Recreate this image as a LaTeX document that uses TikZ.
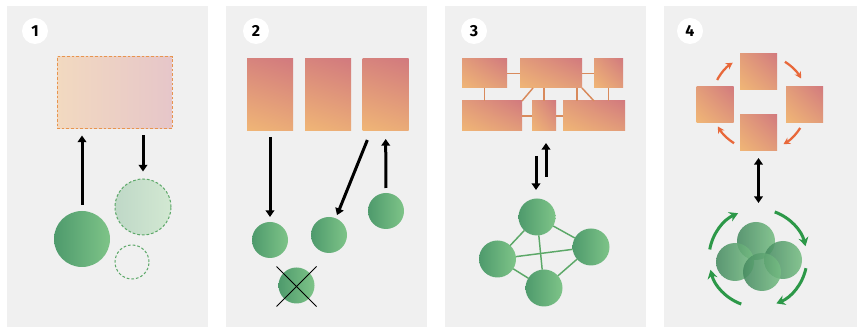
\documentclass[tikz,border=0pt]{standalone}
\usepackage{fontspec}
\setsansfont{Fira Sans}
\usetikzlibrary{arrows.meta,calc,shadings}

\definecolor{panelgray}{RGB}{240,240,240}
\definecolor{leafdark}{RGB}{78,154,108}
\definecolor{leaflight}{RGB}{126,196,136}
\definecolor{blockred}{RGB}{210,122,126}
\definecolor{blockmid}{RGB}{226,156,122}
\definecolor{blockgold}{RGB}{240,182,118}
\definecolor{linkorange}{RGB}{216,138,92}
\definecolor{arcorange}{RGB}{232,104,58}
\definecolor{arcgreen}{RGB}{44,152,72}
\definecolor{meshgreen}{RGB}{92,168,104}

\tikzset{every picture/.style={line width=0.75pt}}
\tikzset{
  panel/.style={fill=panelgray},
  badge/.style={circle, fill=white, minimum size=19.5pt, inner sep=0pt,
    font=\sffamily\bfseries\fontsize{12}{13}\selectfont},
  block/.style={rectangle, inner sep=0pt, outer sep=0pt,
    upper right=blockred, upper left=blockmid, lower right=blockmid, lower left=blockgold},
  tallblock/.style={rectangle, inner sep=0pt, outer sep=0pt,
    upper right=blockred, upper left={blockred!70!blockmid}, lower right={blockgold!60!blockmid}, lower left=blockgold},
  leaf/.style={circle, inner sep=0pt, outer sep=0pt, left color=leafdark, right color=leaflight},
  arr/.style={line width=2.25pt, -{Triangle[length=5pt,width=6.5pt]}},
  arrboth/.style={line width=2.25pt, {Triangle[length=5pt,width=6.5pt]}-{Triangle[length=5pt,width=6.5pt]}},
  link/.style={draw=linkorange, line width=1.1pt},
  mesh/.style={draw=meshgreen, line width=1.1pt},
  oarc/.style={draw=arcorange, line width=1.7pt, -{Stealth[length=5pt,width=5.5pt]}},
  garc/.style={draw=arcgreen, line width=2.25pt, -{Stealth[length=6.5pt,width=7.5pt]}}
}

\begin{document}
\begin{tikzpicture}[x=0.75pt,y=0.75pt,yscale=-1,xscale=1]
	\useasboundingbox (0,0) rectangle (857,327);
	\fill[white] (0,0) rectangle (857,327);

	%Shape: Rectangle (panels)
	\fill[panel] (7,6) rectangle (208,327);
	\fill[panel] (226,6) rectangle (427,327);
	\fill[panel] (445,6) rectangle (646,327);
	\fill[panel] (664,6) rectangle (857,327);

	% Text Node
	\node[badge] (num1) at (35,31) {1};
	\node[badge] (num2) at (256,31) {2};
	\node[badge] (num3) at (474,31) {3};
	\node[badge] (num4) at (690,31) {4};

	%% panel 1
	%Shape: Rectangle
	\node[rectangle, inner sep=0pt, minimum width=86.25pt, minimum height=54pt,
	  left color={rgb,255:red,242;green,217;blue,192}, right color={rgb,255:red,230;green,198;blue,201},
	  draw={rgb,255:red,232;green,148;blue,78}, dash pattern=on 2pt off 1.5pt] (r1) at (114.5,93) {};
	%Shape: Circle
	\node[leaf, minimum size=42pt] (c1) at (82,239) {};
	\node[circle, inner sep=0pt, minimum size=42pt,
	  left color={rgb,255:red,191;green,216;blue,199}, right color={rgb,255:red,210;green,232;blue,210},
	  draw=meshgreen, dash pattern=on 2pt off 1.5pt] (d1) at (143,207) {};
	\node[circle, inner sep=0pt, minimum size=25.5pt, draw=meshgreen, dash pattern=on 2pt off 1.5pt] (e1) at (132,262) {};
	%Straight Lines
	\draw[arr, shorten <=4.5pt, shorten >=4.5pt] (c1.north) -- (c1.north |- r1.south);
	\draw[arr, shorten <=4.5pt, shorten >=5.25pt] (d1.north |- r1.south) -- (d1.north);

	%% panel 2
	%Shape: Rectangle
	\node[tallblock, minimum width=34.5pt, minimum height=54pt] (q1) at (270,95) {};
	\node[tallblock, minimum width=34.5pt, minimum height=54pt] (q2) at (328,95) {};
	\node[tallblock, minimum width=34.5pt, minimum height=54pt] (q3) at (385.5,95) {};
	%Shape: Circle
	\node[leaf, minimum size=27pt] (b1) at (270,240) {};
	\node[leaf, minimum size=27pt] (b2) at (329,235) {};
	\node[leaf, minimum size=27pt] (b3) at (386,211) {};
	\node[leaf, minimum size=27pt] (b4) at (296.5,285.5) {};
	%Straight Lines
	\draw ($(b4)+(-20,-19)$) -- ($(b4)+(20,21)$);
	\draw ($(b4)+(20,-19)$) -- ($(b4)+(-20,21)$);
	\draw[arr, shorten <=4.5pt, shorten >=3.75pt] (q1.south) -- (b1.north);
	\draw[arr, shorten <=7.3pt, shorten >=2.6pt] (q3) -- (b2);
	\draw[arr, shorten <=3.75pt, shorten >=6pt] (b3) -- (q3);

	%% panel 3
	%Shape: Rectangle
	\node[block, minimum width=33.75pt, minimum height=21.75pt] (ra) at (484.5,73.5) {};
	\node[block, minimum width=46.5pt, minimum height=21.75pt] (rb) at (551,73.5) {};
	\node[block, minimum width=21.75pt, minimum height=21.75pt] (rc) at (608.5,73.5) {};
	\node[block, minimum width=45pt, minimum height=22.5pt] (rd) at (492,116) {};
	\node[block, minimum width=18pt, minimum height=22.5pt] (re) at (544,116) {};
	\node[block, minimum width=46.5pt, minimum height=22.5pt] (rf) at (594,116) {};
	%Straight Lines
	\draw[link] (ra.east) -- (rb.west);
	\draw[link] (rb.east) -- (rc.west);
	\draw[link] (rd.east) -- (re.west);
	\draw[link] (re.east) -- (rf.west);
	\draw[link] (ra.south) -- (ra.south |- rd.north);
	\draw[link] (re.north) -- (re.north |- rb.south);
	\draw[link] ($(rb.south east)+(-5,0)$) -- ($(rb.south east)+(-5,13)$);
	\draw[link] (rc.south) -- (rc.south |- rf.north);
	\draw[link] ($(rb.south west)+(13,0)$) -- (rd.north east);
	\draw[link] (rb.south east) -- ($(rf.north west)+(31,0)$);
	%Shape: Circle
	\node[leaf, minimum size=27.75pt] (n1) at (537,217) {};
	\node[leaf, minimum size=27.75pt] (n2) at (497.5,259) {};
	\node[leaf, minimum size=27.75pt] (n3) at (591,247) {};
	\node[leaf, minimum size=27.75pt] (n4) at (544,288) {};
	\draw[mesh] (n1) -- (n2);
	\draw[mesh] (n1) -- (n3);
	\draw[mesh] (n1) -- (n4);
	\draw[mesh] (n2) -- (n3);
	\draw[mesh] (n2) -- (n4);
	\draw[mesh] (n3) -- (n4);
	%Straight Lines
	\draw[arr] ($(n1.north)+(-1,-42.5)$) -- ($(n1.north)+(-1,-8.5)$);
	\draw[arr] ($(n1.north)+(9,-21.5)$) -- ($(n1.north)+(9,-55.5)$);

	%% panel 4
	%Shape: Square
	\node[block, minimum width=27.75pt, minimum height=27pt] (s1) at (758.5,71.5) {};
	\node[block, minimum width=27.75pt, minimum height=27pt] (s2) at (715,104.5) {};
	\node[block, minimum width=27.75pt, minimum height=27pt] (s3) at (804.5,104.5) {};
	\node[block, minimum width=27.75pt, minimum height=27pt] (s4) at (758.5,133) {};
	\coordinate (loop) at (759.5,102.5);
	%Shape: Arc
	\draw[oarc] ($(loop)+(-152:48)$) arc[start angle=-152, end angle=-124, radius=48];
	\draw[oarc] ($(loop)+(-58:48)$) arc[start angle=-58, end angle=-30, radius=48];
	\draw[oarc] ($(loop)+(32:48)$) arc[start angle=32, end angle=60, radius=48];
	\draw[oarc] ($(loop)+(122:48)$) arc[start angle=122, end angle=150, radius=48];
	%Shape: Circle
	\node[leaf, minimum size=28.5pt, opacity=0.88, left color=leafdark!90!black, right color=leaflight!85!leafdark] (g1) at (756,241) {};
	\node[leaf, minimum size=28.5pt, opacity=0.88, left color=leafdark!90!black, right color=leaflight!85!leafdark] (g2) at (735,262) {};
	\node[leaf, minimum size=28.5pt, opacity=0.88, left color=leafdark!90!black, right color=leaflight!85!leafdark] (g3) at (783,260) {};
	\node[leaf, minimum size=28.5pt, opacity=0.88, left color=leafdark!90!black, right color=leaflight!85!leafdark] (g4) at (762,272) {};
	%Straight Lines
	\draw[arrboth, shorten <=5.25pt, shorten >=14.25pt] (s4.south) -- (s4.south |- g1.north);
	\coordinate (swirl) at (758,258);
	%Shape: Arc
	\draw[garc] ($(swirl)+(-170:49)$) arc[start angle=-170, end angle=-114, radius=49];
	\draw[garc] ($(swirl)+(-70:49)$) arc[start angle=-70, end angle=-14, radius=49];
	\draw[garc] ($(swirl)+(12:49)$) arc[start angle=12, end angle=68, radius=49];
	\draw[garc] ($(swirl)+(110:49)$) arc[start angle=110, end angle=166, radius=49];

\end{tikzpicture}
\end{document}
